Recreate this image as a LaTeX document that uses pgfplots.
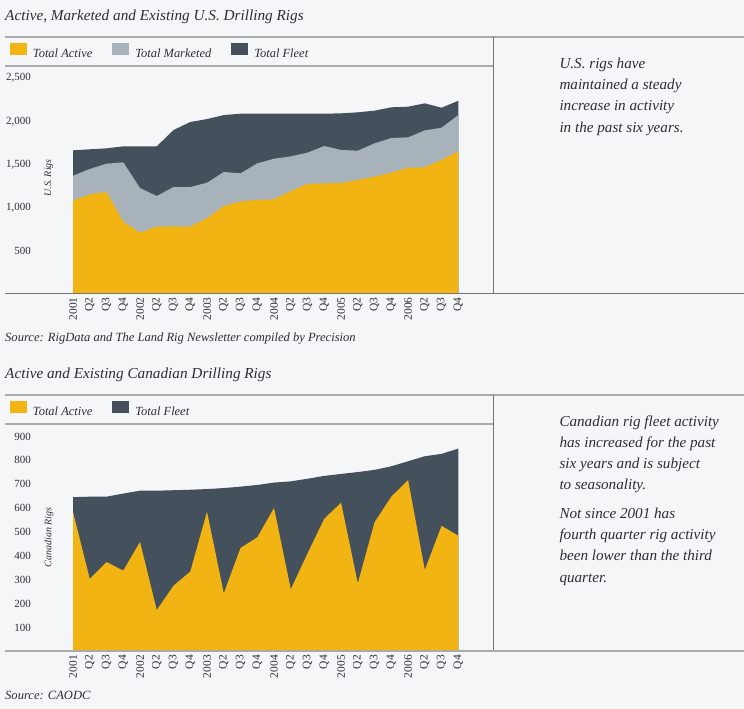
\documentclass[border=0pt]{standalone}
\usepackage{fontspec}
\setmainfont{Liberation Serif}
\usepackage{pgfplots}
\pgfplotsset{compat=1.18}
\definecolor{cBg}{RGB}{245,246,248}
\definecolor{cActive}{RGB}{241,180,18}
\definecolor{cMarket}{RGB}{168,178,186}
\definecolor{cFleet}{RGB}{68,81,92}
\definecolor{cRule}{RGB}{168,170,172}
\definecolor{cRuleD}{RGB}{115,117,120}
\definecolor{cText}{RGB}{45,45,52}
\pgfplotsset{
  rigaxis/.style={
    scale only axis, width=462bp, xmin=-2.507, xmax=25.07, ymin=0,
    axis line style={draw=none}, major tick length=0pt, tick style={draw=none},
    xtick={0,...,23},
    xticklabels={2001,Q2,Q3,Q4,2002,Q2,Q3,Q4,2003,Q2,Q3,Q4,2004,Q2,Q3,Q4,2005,Q2,Q3,Q4,2006,Q2,Q3,Q4},
    xticklabel style={rotate=90, anchor=east, inner sep=0pt, font=\fontsize{11.5}{13}\selectfont, text=cText},
    xticklabel shift=4bp,
    yticklabel style={anchor=east, inner sep=0pt, yshift=-0.8bp, font=\fontsize{11}{13}\selectfont, text=cText},
    ticklabel pos=left,
    /pgf/number format/assume math mode=true,
    /pgf/number format/1000 sep={,},
    legend image code/.code={\path[##1] (0bp,-2bp) rectangle (17bp,10bp);},
    legend style={draw=none, fill=none, legend columns=-1, inner sep=0pt, outer sep=0pt,
      font=\itshape\fontsize{12.5}{14}\selectfont, text=cText,
      nodes={inner sep=0pt},
      /tikz/every odd column/.append style={column sep=6bp},
      /tikz/every even column/.append style={column sep=20bp}},
    legend cell align=left,
  }
}
\begin{document}
\begin{tikzpicture}
\fill[cBg] (0,0) rectangle (744bp,709bp);
\useasboundingbox (0,0) rectangle (744bp,709bp);

% ---------- U.S. chart ----------
\begin{axis}[rigaxis, at={(31bp,415.7bp)}, anchor=south west,
  height=224.6bp, ymax=2600, ytick={500,1000,1500,2000,2500},
  legend style={at={(-0.04545,1.0788)}, anchor=west}]
\addlegendimage{fill=cActive, draw=none}
\addlegendentry{Total Active}
\addlegendimage{fill=cMarket, draw=none}
\addlegendentry{Total Marketed}
\addlegendimage{fill=cFleet, draw=none}
\addlegendentry{Total Fleet}
\addplot[fill=cFleet, draw=none, forget plot] coordinates {
(0,1655) (1,1667) (2,1678) (3,1701) (4,1701) (5,1701) (6,1890) (7,1983)
(8,2017) (9,2063) (10,2079) (11,2079) (12,2079) (13,2079) (14,2079) (15,2079)
(16,2083) (17,2095) (18,2114) (19,2153) (20,2160) (21,2199) (22,2148) (23,2229)} \closedcycle;
\addplot[fill=cMarket, draw=none, forget plot] coordinates {
(0,1361) (1,1439) (2,1500) (3,1516) (4,1219) (5,1126) (6,1230) (7,1230)
(8,1280) (9,1404) (10,1389) (11,1504) (12,1558) (13,1585) (14,1628) (15,1705)
(16,1659) (17,1651) (18,1736) (19,1797) (20,1805) (21,1886) (22,1917) (23,2063)} \closedcycle;
\addplot[fill=cActive, draw=none, forget plot] coordinates {
(0,1072) (1,1146) (2,1172) (3,829) (4,702) (5,771) (6,775) (7,771)
(8,868) (9,1010) (10,1064) (11,1080) (12,1088) (13,1184) (14,1265) (15,1273)
(16,1277) (17,1311) (18,1350) (19,1396) (20,1454) (21,1458) (22,1543) (23,1643)} \closedcycle;
\end{axis}

% ---------- Canadian chart ----------
\begin{axis}[rigaxis, at={(31bp,58bp)}, anchor=south west,
  height=222.5bp, ymax=930, ytick={100,200,...,900},
  legend style={at={(-0.04545,1.0876)}, anchor=west}]
\addlegendimage{fill=cActive, draw=none}
\addlegendentry{Total Active}
\addlegendimage{fill=cFleet, draw=none}
\addlegendentry{Total Fleet}
\addplot[fill=cFleet, draw=none, forget plot] coordinates {
(0,643) (1,645) (2,645) (3,658) (4,670) (5,670) (6,672) (7,674)
(8,677) (9,681) (10,687) (11,694) (12,704) (13,709) (14,720) (15,732)
(16,740) (17,748) (18,757) (19,772) (20,793) (21,814) (22,824) (23,846)} \closedcycle;
\addplot[fill=cActive, draw=none, forget plot] coordinates {
(0,582) (1,301) (2,372) (3,336) (4,456) (5,171) (6,273) (7,332)
(8,582) (9,241) (10,431) (11,475) (12,598) (13,258) (14,408) (15,553)
(16,620) (17,283) (18,538) (19,645) (20,715) (21,339) (22,523) (23,482)} \closedcycle;
\end{axis}

% ---------- rules ----------
\draw[cRule, line width=1.5bp] (5bp,672bp) -- (744bp,672bp);
\draw[cRule, line width=1.5bp] (5bp,643bp) -- (493.3bp,643bp);
\draw[cRuleD, line width=1bp] (493.3bp,672bp) -- (493.3bp,415.7bp);
\draw[cRuleD, line width=1.2bp] (5bp,415.7bp) -- (744bp,415.7bp);

\draw[cRule, line width=1.5bp] (5bp,314bp) -- (744bp,314bp);
\draw[cRule, line width=1.5bp] (5bp,285bp) -- (493.3bp,285bp);
\draw[cRuleD, line width=1bp] (493.3bp,314bp) -- (493.3bp,58bp);
\draw[cRule, line width=1.5bp] (5bp,58bp) -- (744bp,58bp);

% ---------- texts ----------
\begin{scope}[every node/.style={text=cText, inner sep=0pt}]
\node[anchor=base west, font=\itshape\fontsize{15.3}{18}\selectfont] at (5bp,688.5bp) {Active, Marketed and Existing U.S. Drilling Rigs};
\node[anchor=base west, font=\itshape\fontsize{15.3}{18}\selectfont] at (5bp,330bp) {Active and Existing Canadian Drilling Rigs};
\node[rotate=90, font=\itshape\fontsize{10}{12}\selectfont] at (49bp,531bp) {U.S. Rigs};
\node[rotate=90, font=\itshape\fontsize{10}{12}\selectfont] at (49bp,171.5bp) {Canadian Rigs};
\node[anchor=base west, font=\itshape\fontsize{12.6}{14}\selectfont] at (5bp,367.3bp) {Source: RigData and The Land Rig Newsletter compiled by Precision};
\node[anchor=base west, font=\itshape\fontsize{12.6}{14}\selectfont] at (5bp,9.7bp) {Source: CAODC};
\begin{scope}[every node/.append style={anchor=base west, font=\itshape\fontsize{15.2}{18}\selectfont}]
\node at (559.3bp,640.7bp) {U.S. rigs have};
\node at (559.3bp,619.0bp) {maintained a steady};
\node at (559.3bp,598.0bp) {increase in activity};
\node at (559.3bp,576.7bp) {in the past six years.};
\node at (559.3bp,282.3bp) {Canadian rig fleet activity};
\node at (559.3bp,261.3bp) {has increased for the past};
\node at (559.3bp,240.0bp) {six years and is subject};
\node at (559.3bp,219.0bp) {to seasonality.};
\node at (559.3bp,190.0bp) {Not since 2001 has};
\node at (559.3bp,169.0bp) {fourth quarter rig activity};
\node at (559.3bp,148.0bp) {been lower than the third};
\node at (559.3bp,126.3bp) {quarter.};
\end{scope}
\end{scope}
\end{tikzpicture}
\end{document}
